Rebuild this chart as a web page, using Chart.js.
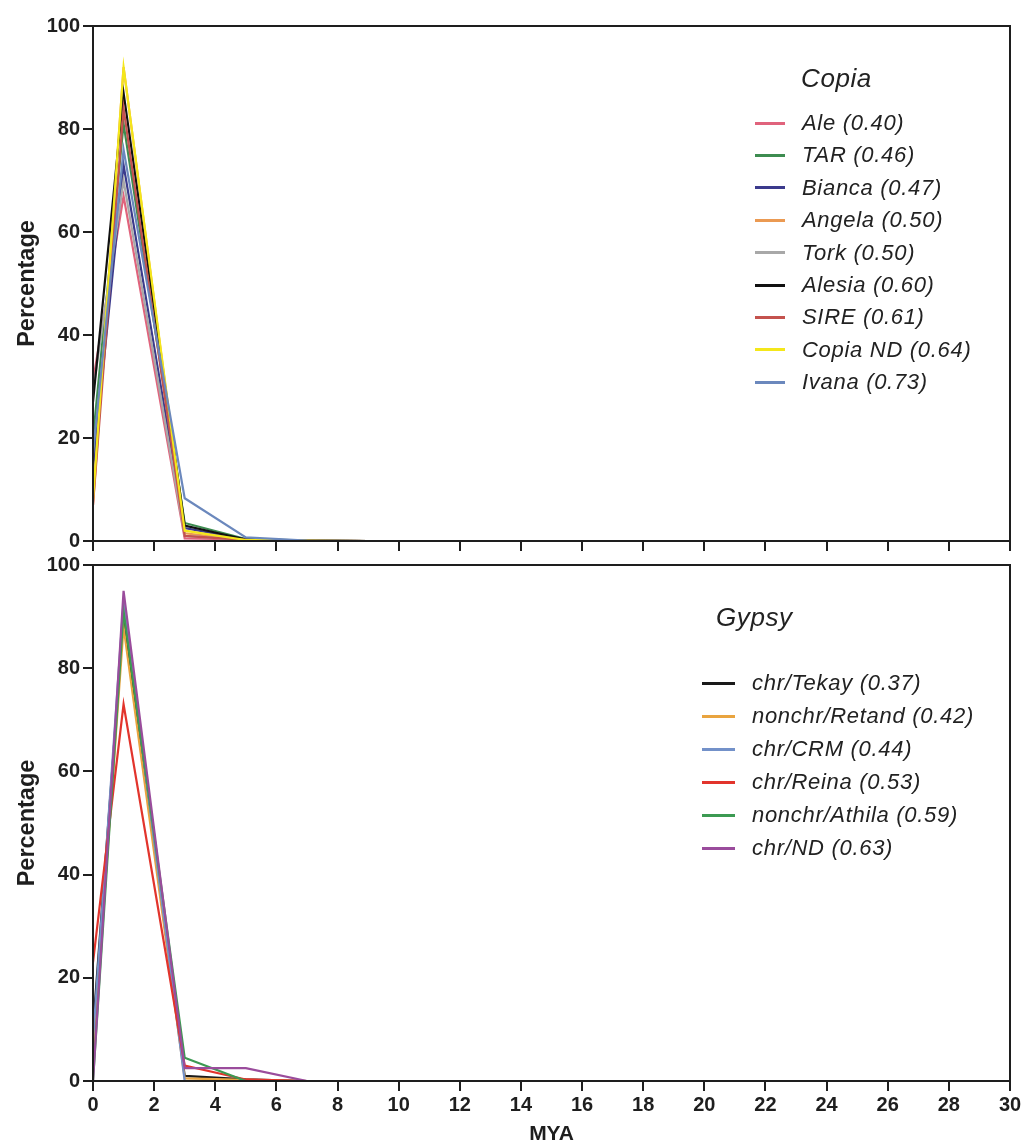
<!DOCTYPE html>
<html>
<head>
<meta charset="utf-8">
<script src="https://cdn.jsdelivr.net/npm/chart.js@4/dist/chart.umd.min.js"></script>
<style>
  html, body { margin:0; padding:0; background:#fff; }
  body { width:1024px; height:1145px; position:relative; overflow:hidden; font-family:"Liberation Sans", Arial, sans-serif; }
  .wrap { position:absolute; left:0; width:1024px; }
  .legend { position:absolute; color:#222; font-style:italic; }
  .legend .ttl { position:absolute; font-size:26px; white-space:nowrap; letter-spacing:0.6px; line-height:30px; }
  .legend .row { position:absolute; white-space:nowrap; font-size:22px; letter-spacing:0.7px; line-height:24px; }
  .legend .sw { position:absolute; height:3px; }
</style>
</head>
<body>
<div class="wrap" style="top:0;height:556px"><canvas id="c1" width="1024" height="556"></canvas></div>
<div class="wrap" style="top:550px;height:595px"><canvas id="c2" width="1024" height="595"></canvas></div>
<div id="leg1" class="legend"></div>
<div id="leg2" class="legend"></div>
<script>
// ---- data ----
const mya = [0, 1, 3, 5, 7, 9];
const xTickStep = 2;

const copiaTitle = "Copia";
const copiaNames = ["Ale (0.40)", "TAR (0.46)", "Bianca (0.47)", "Angela (0.50)", "Tork (0.50)", "Alesia (0.60)", "SIRE (0.61)", "Copia ND (0.64)", "Ivana (0.73)"];
const copiaColors = ["#e0637c", "#3d8c50", "#3b3a8c", "#eb9a52", "#a8a8a8", "#111111", "#c4524e", "#f4e71a", "#6b88bd"];
const ale      = [31, 67, 0.5, 0.3, 0.1, 0];
const tar      = [20, 81, 3.5, 0.4, 0.1, 0];
const bianca   = [14, 73, 2.5, 0.3, 0.1, 0];
const angela   = [7, 92, 1.5, 0.2, 0.1, 0];
const tork     = [29, 70, 1.0, 0.2, 0.05, 0];
const alesia   = [27, 87, 3.0, 0.3, 0.1, 0];
const sire     = [7, 84, 1.0, 0.2, 0.05, 0];
const copiaND  = [8, 92, 2.0, 0.2, 0.1, 0];
const ivana    = [17, 76, 8.3, 0.7, 0.1, 0];
const copiaSeries = [ale, tar, bianca, angela, tork, alesia, sire, copiaND, ivana];

const gypsyTitle = "Gypsy";
const gypsyNames = ["chr/Tekay (0.37)", "nonchr/Retand (0.42)", "chr/CRM (0.44)", "chr/Reina (0.53)", "nonchr/Athila (0.59)", "chr/ND (0.63)"];
const gypsyColors = ["#1a1a1a", "#e9a43f", "#7391c9", "#e2342c", "#3c9a52", "#9a4c9c"];
const tekay   = [10, 90, 1.0, 0.3, 0, 0];
const retand  = [5, 88, 0.5, 0.2, 0, 0];
const crm     = [8, 93, 0, 0, 0, 0];
const reina   = [23, 73, 3.0, 0.3, 0, 0];
const athila  = [0, 91, 4.5, 0, 0, 0];
const gypsyND = [0, 95, 2.5, 2.5, 0, 0];
const gypsySeries = [tekay, retand, crm, reina, athila, gypsyND];

const yTicks = [0, 20, 40, 60, 80, 100];
const yTitle = "Percentage";
const xTitle = "MYA";

// ---- chart building ----
const FAMILY = "'Liberation Sans', Arial, sans-serif";
const tickFont = { family: FAMILY, size: 20, weight: 'bold' };
const xTitleFont = { family: FAMILY, size: 21, weight: 'bold' };
const yTitleFont = { family: FAMILY, size: 23.5, weight: 'bold' };
const ink = '#1e1e1e';

const framePlugin = {
  id: 'frame',
  afterDraw(chart) {
    const a = chart.chartArea, ctx = chart.ctx;
    ctx.save();
    ctx.strokeStyle = ink;
    ctx.lineWidth = 2;
    ctx.strokeRect(a.left, a.top, a.right - a.left, a.bottom - a.top);
    ctx.restore();
  }
};

function makeChart(id, names, colors, series, padTop, xHeight, showXLabels) {
  const datasets = series.map((vals, i) => ({
    label: names[i],
    data: mya.map((x, j) => ({ x: x, y: vals[j] })),
    borderColor: colors[i],
    backgroundColor: colors[i],
    borderWidth: 2.2,
    pointRadius: 0,
    tension: 0,
    fill: false,
    order: -i
  }));
  return new Chart(document.getElementById(id), {
    type: 'line',
    data: { datasets },
    plugins: [framePlugin],
    options: {
      responsive: false,
      animation: false,
      devicePixelRatio: 1,
      layout: { padding: { top: padTop, right: 14, left: 0, bottom: 0 } },
      plugins: { legend: { display: false }, tooltip: { enabled: false } },
      scales: {
        x: {
          type: 'linear', min: 0, max: 30,
          afterFit(s) { s.height = xHeight; },
          grid: { drawOnChartArea: false, drawTicks: true, tickLength: 10, color: ink, lineWidth: 2 },
          border: { color: ink, width: 2 },
          ticks: { display: showXLabels, stepSize: xTickStep, font: tickFont, color: ink, padding: 2, maxRotation: 0, autoSkip: false },
          title: { display: showXLabels, text: xTitle, font: xTitleFont, color: ink, padding: { top: 0, bottom: -2 } }
        },
        y: {
          min: 0, max: 100,
          afterFit(s) { s.width = 93; },
          afterBuildTicks(s) { s.ticks = yTicks.map(v => ({ value: v })); },
          grid: { drawOnChartArea: false, drawTicks: true, tickLength: 10, color: ink, lineWidth: 2 },
          border: { color: ink, width: 2 },
          ticks: { font: tickFont, color: ink, padding: 3 },
          title: { display: true, text: yTitle, font: yTitleFont, color: ink, padding: { top: 13, bottom: 0 } }
        }
      }
    }
  });
}

makeChart('c1', copiaNames, copiaColors, copiaSeries, 26, 12, false);
makeChart('c2', gypsyNames, gypsyColors, gypsySeries, 15, 64, true);

function makeLegend(id, title, names, colors, o) {
  const el = document.getElementById(id);
  const t = document.createElement('div');
  t.className = 'ttl';
  t.textContent = title;
  t.style.left = o.titleX + 'px';
  t.style.top = (o.titleY - 15) + 'px';
  el.appendChild(t);
  names.forEach((n, i) => {
    const cy = o.rowY + i * o.rowStep;
    const sw = document.createElement('div');
    sw.className = 'sw';
    sw.style.left = o.lineX + 'px';
    sw.style.width = o.lineW + 'px';
    sw.style.top = (cy - 1.5) + 'px';
    sw.style.background = colors[i];
    el.appendChild(sw);
    const r = document.createElement('div');
    r.className = 'row';
    r.textContent = n;
    r.style.left = o.textX + 'px';
    r.style.top = (cy - 12) + 'px';
    el.appendChild(r);
  });
}
makeLegend('leg1', copiaTitle, copiaNames, copiaColors, { titleX: 801, textX: 802, titleY: 78, rowY: 123, rowStep: 32.4, lineX: 755, lineW: 30 });
makeLegend('leg2', gypsyTitle, gypsyNames, gypsyColors, { titleX: 716, textX: 752, titleY: 617, rowY: 683, rowStep: 33, lineX: 702, lineW: 33 });
</script>
</body>
</html>
